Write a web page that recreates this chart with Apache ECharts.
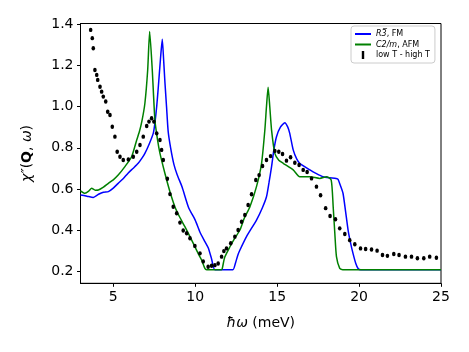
<!DOCTYPE html>
<html>
<head>
<meta charset="utf-8">
<script src="https://cdn.jsdelivr.net/npm/echarts@6/dist/echarts.min.js"></script>
<style>html,body{margin:0;padding:0;background:#fff}#c{width:469px;height:352px}</style>
</head>
<body>
<div id="c"></div>
<script>
// ---- data ----
var xTicks = [5, 10, 15, 20, 25];
var yTicks = [0.2, 0.4, 0.6, 0.8, 1.0, 1.2, 1.4];
var seriesNames = ['R3FM', 'C2mAFM', 'low T - high T'];

var fmData = [
  [3.0,0.572],[3.4,0.566],[3.78,0.56],[4.1,0.575],[4.4,0.585],[4.7,0.588],[5.0,0.605],
  [5.3,0.628],[5.6,0.65],[5.9,0.677],[6.2,0.70],[6.52,0.725],[6.75,0.75],[6.93,0.773],
  [7.2,0.82],[7.44,0.87],[7.54,0.92],[7.65,1.0],[7.75,1.096],[7.88,1.23],[7.99,1.326],
  [8.07,1.23],[8.15,1.12],[8.25,1.0],[8.35,0.88],[8.5,0.80],[8.7,0.72],[8.9,0.67],
  [9.2,0.61],[9.6,0.51],[10.0,0.45],[10.3,0.39],[10.6,0.345],[10.8,0.315],[11.0,0.262],
  [11.2,0.21],[12.3,0.21],[12.45,0.24],[12.6,0.28],[12.73,0.305],[13.13,0.37],[13.74,0.45],
  [14.1,0.51],[14.35,0.563],[14.5,0.63],[14.66,0.709],[14.8,0.79],[14.96,0.854],[15.2,0.90],
  [15.47,0.922],[15.65,0.90],[15.77,0.87],[15.98,0.79],[16.2,0.745],[16.38,0.725],[17.0,0.693],
  [17.4,0.675],[17.8,0.66],[18.2,0.655],[18.6,0.652],[18.72,0.647],[18.85,0.62],[19.02,0.58],
  [19.18,0.49],[19.33,0.402],[19.48,0.34],[19.63,0.289],[19.8,0.24],[19.94,0.216],[20.1,0.21],
  [25.0,0.21]
];

var afmData = [
  [3.0,0.592],[3.27,0.58],[3.5,0.59],[3.68,0.604],[3.9,0.595],[4.09,0.596],[4.4,0.61],
  [4.7,0.628],[5.0,0.645],[5.3,0.668],[5.71,0.709],[6.12,0.757],[6.43,0.838],[6.6,0.88],
  [6.75,0.93],[6.93,1.016],[7.1,1.177],[7.22,1.363],[7.38,1.177],[7.54,0.935],[7.7,0.84],
  [7.85,0.773],[8.15,0.677],[8.45,0.59],[8.76,0.515],[9.05,0.465],[9.37,0.418],[9.68,0.37],
  [9.98,0.321],[10.2,0.285],[10.39,0.257],[10.59,0.216],[10.7,0.21],[11.6,0.21],[11.65,0.215],
  [11.8,0.27],[12.12,0.321],[12.4,0.36],[12.73,0.402],[13.0,0.46],[13.34,0.515],[13.74,0.612],
  [14.05,0.725],[14.25,0.886],[14.35,1.0],[14.45,1.093],[14.55,1.0],[14.66,0.886],[14.86,0.773],
  [15.1,0.74],[15.37,0.725],[15.98,0.693],[16.38,0.66],[17.0,0.66],[17.6,0.652],[18.01,0.66],
  [18.3,0.644],[18.42,0.515],[18.52,0.386],[18.62,0.273],[18.82,0.216],[19.0,0.21],[25.0,0.21]
];

var expData = [
  [3.62,1.371],[3.72,1.331],[3.78,1.282],[3.88,1.177],[3.99,1.153],[4.05,1.129],[4.19,1.096],
  [4.29,1.072],[4.39,1.048],[4.54,1.024],[4.66,0.975],[4.80,0.959],[4.94,0.902],[5.10,0.854],
  [5.24,0.781],[5.41,0.757],[5.61,0.741],[5.92,0.744],[6.22,0.757],[6.43,0.781],[6.63,0.814],
  [6.83,0.854],[7.04,0.906],[7.18,0.927],[7.34,0.943],[7.48,0.927],[7.65,0.87],[7.85,0.838],
  [7.95,0.79],[8.05,0.741],[8.3,0.65],[8.46,0.576],[8.66,0.515],[8.87,0.483],[9.07,0.438],
  [9.27,0.40],[9.48,0.386],[9.68,0.362],[9.98,0.325],[10.29,0.289],[10.49,0.25],[10.79,0.224],
  [11.0,0.229],[11.2,0.232],[11.4,0.24],[11.61,0.273],[11.75,0.30],[11.91,0.313],[12.17,0.338],
  [12.42,0.37],[12.62,0.402],[12.83,0.442],[13.03,0.475],[13.23,0.523],[13.44,0.575],[13.7,0.644],
  [13.9,0.668],[14.11,0.712],[14.35,0.741],[14.6,0.76],[14.86,0.785],[15.1,0.781],[15.33,0.77],
  [15.57,0.738],[15.82,0.754],[16.08,0.728],[16.34,0.717],[16.59,0.693],[16.83,0.683],[17.1,0.652],
  [17.4,0.612],[17.65,0.57],[17.96,0.508],[18.23,0.47],[18.56,0.454],[18.82,0.41],[19.13,0.383],
  [19.43,0.353],[19.74,0.333],[20.09,0.313],[20.4,0.31],[20.76,0.308],[21.1,0.302],[21.43,0.281],
  [21.73,0.277],[22.12,0.286],[22.44,0.281],[22.83,0.273],[23.2,0.273],[23.56,0.265],[23.95,0.265],
  [24.31,0.273],[24.72,0.268]
];

var FONT = 'DejaVu Sans';
var chart = echarts.init(document.getElementById('c'), null, {renderer: 'canvas'});
var option = {
  animation: false,
  backgroundColor: '#fff',
  grid: {left: 80.5, right: 28, top: 23.5, bottom: 68.7, show: true, borderColor: '#000', borderWidth: 1, containLabel: false},
  xAxis: {
    type: 'value', min: 3, max: 25,
    name: '{i|ħω} (meV)', nameLocation: 'middle', nameGap: 33,
    nameTextStyle: {fontFamily: FONT, fontSize: 14, color: '#000',
      rich: {i: {fontFamily: FONT, fontSize: 14, fontStyle: 'italic', color: '#000'}}},
    axisLine: {show: true, onZero: false, lineStyle: {color: '#000', width: 1}},
    axisTick: {show: true, inside: false, length: 3.5, lineStyle: {color: '#000'}, customValues: xTicks},
    axisLabel: {fontFamily: FONT, fontSize: 14, color: '#000', margin: 7, customValues: xTicks},
    splitLine: {show: false}
  },
  yAxis: {
    type: 'value', min: 0.144, max: 1.402,
    name: '{i|χ″}({b|Q}, {i|ω})', nameLocation: 'middle', nameGap: 46, nameRotate: 90,
    nameTextStyle: {fontFamily: FONT, fontSize: 14, color: '#000',
      rich: {i: {fontFamily: FONT, fontSize: 14, fontStyle: 'italic', color: '#000'},
             b: {fontFamily: FONT, fontSize: 14, fontWeight: 'bold', color: '#000'}}},
    axisLine: {show: true, onZero: false, lineStyle: {color: '#000', width: 1}},
    axisTick: {show: true, inside: false, length: 3.5, lineStyle: {color: '#000'}, customValues: yTicks},
    axisLabel: {fontFamily: FONT, fontSize: 14, color: '#000', margin: 7,
      customValues: yTicks, formatter: function (v) { return v.toFixed(1); }},
    splitLine: {show: false}
  },
  legend: {
    left: 351, top: 26, orient: 'vertical',
    padding: [4, 5, 4, 4], itemGap: 2.5, itemWidth: 16, itemHeight: 8,
    backgroundColor: 'rgba(255,255,255,0.8)', borderColor: '#cccccc', borderWidth: 1, borderRadius: 3,
    textStyle: {fontFamily: FONT, fontSize: 8, color: '#000',
      rich: {i: {fontFamily: FONT, fontSize: 8, fontStyle: 'italic', color: '#000'},
             n: {fontFamily: FONT, fontSize: 8, color: '#000'}}},
    formatter: function (name) {
      if (name === 'R3FM') return '{i|R3\u0305}{n|, FM}';
      if (name === 'C2mAFM') return '{i|C2/m}{n|, AFM}';
      return name;
    },
    data: [
      {name: seriesNames[0], icon: 'path://M0,0 L16,0 L16,2 L0,2 Z'},
      {name: seriesNames[1], icon: 'path://M0,0 L16,0 L16,2 L0,2 Z'},
      {name: seriesNames[2], icon: 'path://M0,0 L3,0 L3,10 L0,10 Z'}
    ]
  },
  series: [
    {name: seriesNames[0], type: 'line', data: fmData, symbol: 'none', smooth: 0.2,
     lineStyle: {color: '#0000ff', width: 1.5}, itemStyle: {color: '#0000ff'}, z: 3},
    {name: seriesNames[1], type: 'line', data: afmData, symbol: 'none', smooth: 0.2,
     lineStyle: {color: '#008000', width: 1.5}, itemStyle: {color: '#008000'}, z: 4},
    {name: seriesNames[2], type: 'scatter', data: expData, symbol: 'circle', symbolSize: [3.6, 4.4],
     itemStyle: {color: '#000', opacity: 1}, z: 5}
  ]
};
chart.setOption(option);
</script>
</body>
</html>
